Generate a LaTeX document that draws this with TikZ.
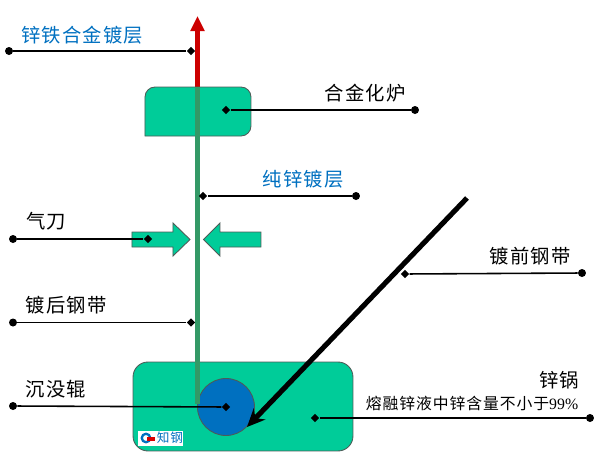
\documentclass[tikz,border=0pt]{standalone}
\usepackage{fontspec}
\newfontfamily\cjk[LetterSpace=6]{Noto Sans CJK SC}
\setmainfont{Liberation Serif}
\usetikzlibrary{arrows.meta,shapes.geometric}
\definecolor{bathgreen}{HTML}{00CC99}
\definecolor{stripgreen}{HTML}{339966}
\definecolor{labelblue}{HTML}{0070C0}
\definecolor{edgegrey}{HTML}{4D5B57}
\tikzset{
	leaddot/.style={circle,fill=black,inner sep=0pt,minimum size=0.16cm},
	leadtip/.style={diamond,fill=black,inner sep=0pt,minimum size=0.17cm},
	lead/.style={line width=0.9pt,black},
	blacklabel/.style={font=\cjk\fontsize{11pt}{13pt}\selectfont,text=black,inner sep=0pt},
	bluelabel/.style={blacklabel,text=labelblue},
	greenpart/.style={fill=bathgreen,draw=edgegrey,line width=0.5pt},
}
\begin{document}
\begin{tikzpicture}[x=0.02cm,y=-0.02cm]
	\useasboundingbox (0,0) rectangle (600,467);
	% strip ends
	\coordinate (redbot) at (197.5,87);
	\coordinate (redtop) at (197.5,16);
	\coordinate (stripbot) at (197.5,404);
	% zinc pot and roller
	\node[greenpart,rounded corners=0.3cm,minimum width=4.4cm,minimum height=1.78cm] (pot) at (243,406.5) {};
	\node[circle,fill=labelblue,draw=edgegrey,line width=0.5pt,minimum size=1.14cm,inner sep=0pt] (roller) at (226,407) {};
	% red coating arrow
	\draw[line width=2.9pt,color=red!80!black,-{Triangle[length=0.3cm,width=0.27cm]}] (redbot) -- (redtop);
	% alloying furnace
	\draw[greenpart] (145,136) -- (145,97) [rounded corners=0.2cm] -- (145,87) -- (251,87) [sharp corners] -- (251,126) [rounded corners=0.2cm] -- (251,136) [sharp corners] -- cycle;
	% strip
	\draw[line width=2.7pt,color=stripgreen] (redbot) -- (stripbot);
	% gas knives
	\draw[greenpart] (132,232) -- (173,232) -- (173,223) -- (190,239.5) -- (173,256) -- (173,247) -- (132,247) -- cycle;
	\draw[greenpart] (261,232) -- (220,232) -- (220,223) -- (203.5,239.5) -- (220,256) -- (220,247) -- (261,247) -- cycle;
	% entry strip
	\coordinate (entrytop) at (467,198);
	\coordinate (entryend) at (247,427);
	\draw[line width=2.9pt,black,-{Stealth[length=0.36cm,width=0.32cm]}] (entrytop) -- (entryend);
	% leader lines
	\node[leaddot] (d1) at (9,51) {};
	\node[leadtip] (t1) at (191,51) {};
	\draw[lead] (d1) -- (t1);
	\node[leaddot] (d2) at (415,110) {};
	\node[leadtip] (t2) at (226,110) {};
	\draw[lead] (d2) -- (t2);
	\node[leaddot] (d3) at (356,196) {};
	\node[leadtip] (t3) at (203,196) {};
	\draw[lead] (d3) -- (t3);
	\node[leaddot] (d4) at (13,239) {};
	\node[leadtip] (t4) at (148,239) {};
	\draw[lead] (d4) -- (t4);
	\node[leaddot] (d5) at (13,322.5) {};
	\node[leadtip] (t5) at (191,322.5) {};
	\draw[lead] (d5) -- (t5);
	\node[leaddot] (d6) at (13,406) {};
	\node[leadtip] (t6) at (226,407) {};
	\draw[lead] (d6) -- (t6);
	\node[leaddot] (d7) at (582,273) {};
	\node[leadtip] (t7) at (405,274) {};
	\draw[lead] (d7) -- (t7);
	\node[leaddot] (d8) at (590,418) {};
	\node[leadtip] (t8) at (315,418) {};
	\draw[lead] (d8) -- (t8);
	% labels
	\node[bluelabel] (coatalloy) at (82,35) {锌铁合金镀层};
	\node[blacklabel] (furnace) at (365,93) {合金化炉};
	\node[bluelabel] (coatzinc) at (303,179) {纯锌镀层};
	\node[blacklabel] (knife) at (46,221) {气刀};
	\node[blacklabel] (after) at (66,305) {镀后钢带};
	\node[blacklabel] (sink) at (56,389) {沉没辊};
	\node[blacklabel] (before) at (530,256) {镀前钢带};
	\node[blacklabel] (pottitle) at (559,380) {锌锅};
	\node[blacklabel,font=\cjk\fontsize{9pt}{11pt}\selectfont] (melt) at (472,403) {熔融锌液中锌含量不小于{\rmfamily 99\%}};
	% logo
	\node[fill=white,inner sep=0pt,minimum width=0.9cm,minimum height=0.3cm] (logo) at (160.5,438) {};
	\node[circle,draw=labelblue,line width=1.3pt,fill=white,inner sep=0pt,minimum size=0.17cm] (logoring) at (146,438) {};
	\node[fill=red!85!black,inner sep=0pt,minimum width=0.17cm,minimum height=0.09cm] (logotag) at (151,439) {};
	\node[text=labelblue,inner sep=0pt,font=\cjk\fontsize{7.2pt}{8pt}\selectfont] (logotext) at (170,438) {知钢};
\end{tikzpicture}
\end{document}
